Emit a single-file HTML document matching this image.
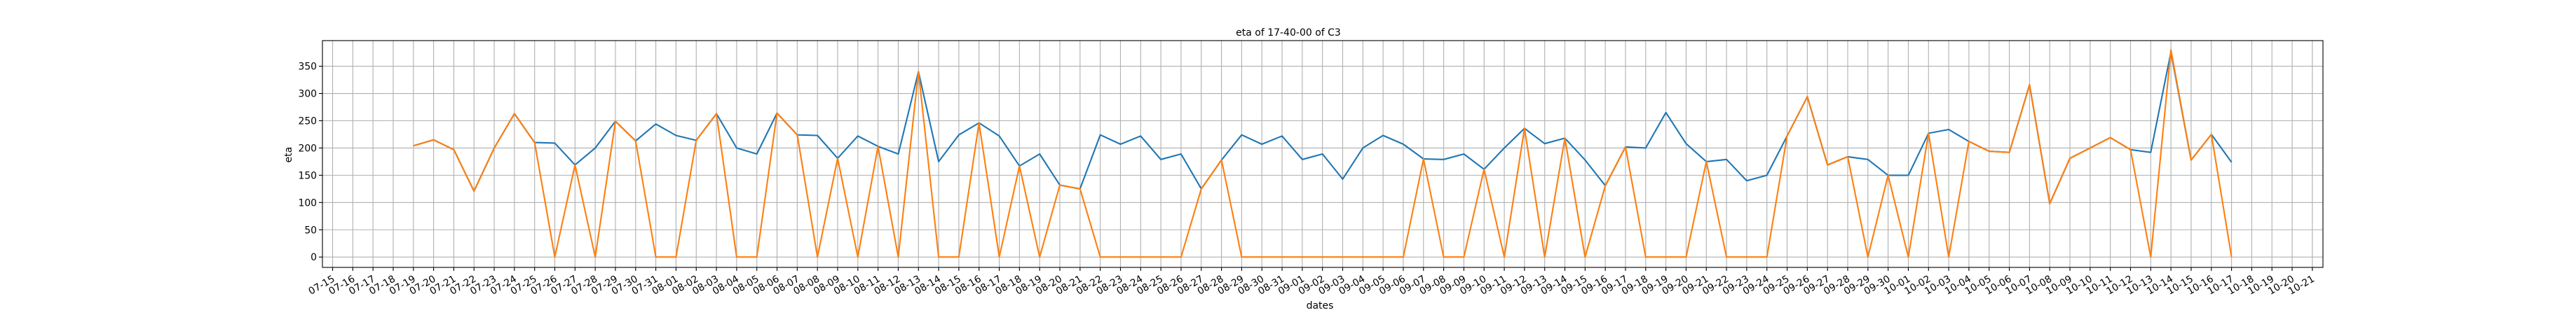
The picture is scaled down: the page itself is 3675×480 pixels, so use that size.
<!DOCTYPE html>
<html><head><meta charset="utf-8"><style>
html,body{margin:0;padding:0;background:#fff;}
svg{display:block;font-family:"DejaVu Sans","Liberation Sans",sans-serif;}
</style></head><body>
<svg id="chart" width="3675" height="480" viewBox="0 0 3675 480" xmlns="http://www.w3.org/2000/svg">
<rect width="3675" height="480" fill="#fff"/>
<text x="1838" y="51" text-anchor="middle" font-size="14">eta of 17-40-00 of C3</text>
<text x="1883" y="441" text-anchor="middle" font-size="14">dates</text>
<text transform="translate(416,221) rotate(-90)" text-anchor="middle" font-size="14">eta</text>
<g id="grid"></g><g id="series"></g><g id="axes"></g>
</svg>
<script>
const tickDates = ["07-15","07-16","07-17","07-18","07-19","07-20","07-21","07-22","07-23","07-24","07-25","07-26","07-27","07-28","07-29","07-30","07-31","08-01","08-02","08-03","08-04","08-05","08-06","08-07","08-08","08-09","08-10","08-11","08-12","08-13","08-14","08-15","08-16","08-17","08-18","08-19","08-20","08-21","08-22","08-23","08-24","08-25","08-26","08-27","08-28","08-29","08-30","08-31","09-01","09-02","09-03","09-04","09-05","09-06","09-07","09-08","09-09","09-10","09-11","09-12","09-13","09-14","09-15","09-16","09-17","09-18","09-19","09-20","09-21","09-22","09-23","09-24","09-25","09-26","09-27","09-28","09-29","09-30","10-01","10-02","10-03","10-04","10-05","10-06","10-07","10-08","10-09","10-10","10-11","10-12","10-13","10-14","10-15","10-16","10-17","10-18","10-19","10-20","10-21"];
const yTicks = [0,50,100,150,200,250,300,350];
const seriesStartIndex = 4;
const blueValues = [204,215,197,121,200,263,210,209,169,200,249,213,244,223,214,263,200,189,264,224,223,181,222,203,189,340,175,224,246,222,167,189,132,125,224,207,222,179,189,125,178,224,207,222,179,189,143,200,223,207,180,179,189,161,200,236,208,218,178,131,202,200,265,208,175,179,140,150,222,294,169,184,179,150,150,227,234,212,194,192,316,98,181,200,219,197,192,376,178,225,174];
const orangeValues = [204,215,197,121,200,263,210,0,169,0,249,213,0,0,214,263,0,0,264,224,0,181,0,203,0,340,0,0,246,0,167,0,132,125,0,0,0,0,0,125,178,0,0,0,0,0,0,0,0,0,180,0,0,161,0,236,0,218,0,131,202,0,0,0,175,0,0,0,222,294,169,184,0,150,0,227,0,212,194,192,316,98,181,200,219,197,0,380,178,225,0];

const NS="http://www.w3.org/2000/svg";
const L=460,R=3314,T=58,B=382,yMin=-19,yMax=397;
const x0=474.5, dx=28.82;
const xs=i=>x0+i*dx;
const ys=v=>B-(v-yMin)/(yMax-yMin)*(B-T);
function mk(tag,attrs,parent){const e=document.createElementNS(NS,tag);for(const k in attrs)e.setAttribute(k,attrs[k]);parent.appendChild(e);return e;}
const grid=document.getElementById('grid'),series=document.getElementById('series'),axes=document.getElementById('axes');
tickDates.forEach((d,i)=>{
  const x=xs(i);
  const g=mk('line',{x1:x,x2:x,y1:T,y2:B,stroke:'#b0b0b0','stroke-width':1.1},grid);
  
  
  const t=mk('line',{x1:x,x2:x,y1:B,y2:B+5,stroke:'#000','stroke-width':1.1},axes);
  
  
  const lb=mk('text',{transform:`translate(${x+4},${B+19}) rotate(-30)`,'text-anchor':'end','font-size':13.9},axes);
  lb.textContent=d;
  
  
});
yTicks.forEach(v=>{
  const y=ys(v);
  const g=mk('line',{x1:L,x2:R,y1:y,y2:y,stroke:'#b0b0b0','stroke-width':1.1},grid);
  
  
  const t=mk('line',{x1:L-5,x2:L,y1:y,y2:y,stroke:'#000','stroke-width':1.1},axes);
  
  
  const lb=mk('text',{x:L-8,y:y+5,'text-anchor':'end','font-size':13.9},axes);
  lb.textContent=v;
  
  
});
function drawLine(vals,color,name){
  const pts=vals.map((v,i)=>xs(i+seriesStartIndex).toFixed(1)+','+ys(v).toFixed(1)).join(' ');
  const p=mk('polyline',{points:pts,fill:'none',stroke:color,'stroke-width':2.1,'stroke-linejoin':'round'},series);
  
  
}
drawLine(blueValues,'#1f77b4','series-blue-line');
drawLine(orangeValues,'#ff7f0e','series-orange-line');
const fr=mk('rect',{x:L,y:T,width:R-L,height:B-T,fill:'none',stroke:'#000','stroke-width':1.1},axes);


</script>
</body></html>
